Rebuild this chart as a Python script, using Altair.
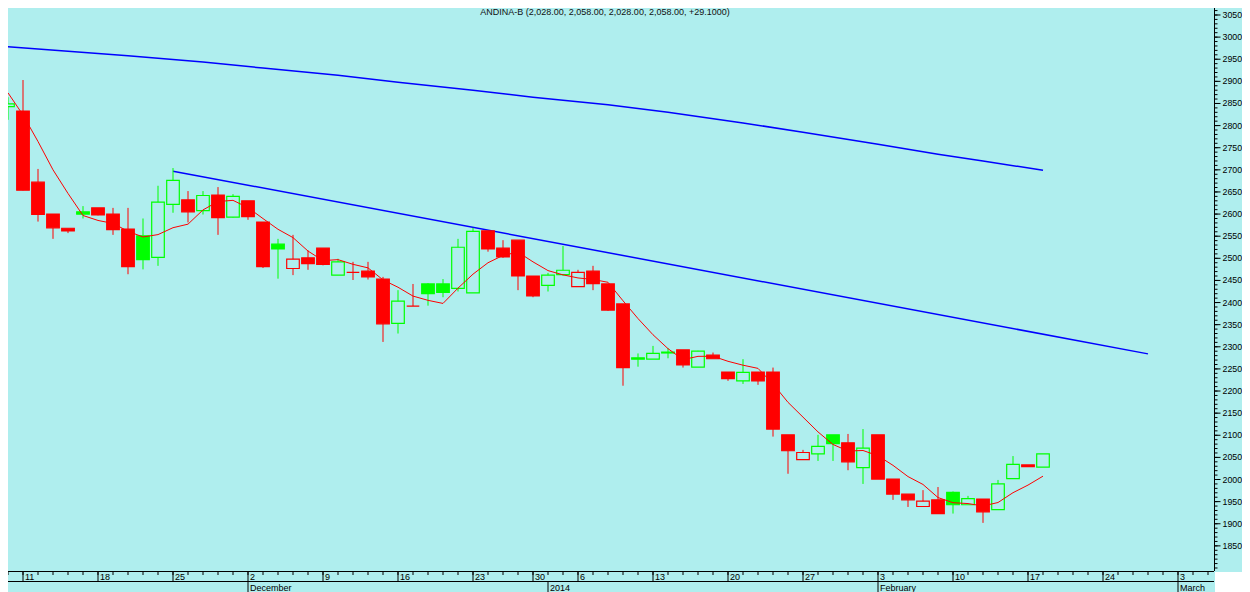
import altair as alt
import pandas as pd
import numpy as np

TITLE = "ANDINA-B (2,028.00, 2,058.00, 2,028.00, 2,058.00, +29.1000)"

# trading calendar (Santiago exchange holidays in range)
cal_start, cal_end = "2013-11-07", "2014-03-06"
holidays = ["2013-12-25", "2013-12-31", "2014-01-01"]

# daily candles, 2013-11-08 .. 2014-02-18
opens = [2843, 2833, 2672, 2600, 2568, 2605, 2614, 2600, 2566, 2551, 2502, 2622, 2632, 2608, 2643,
         2593, 2630, 2582, 2532, 2477, 2501, 2523, 2462, 2468, 2471, 2453, 2353, 2392, 2442, 2442,
         2432, 2422, 2562, 2523, 2541, 2460, 2439, 2463, 2436, 2471, 2442, 2397, 2275, 2272, 2288,
         2293, 2254, 2281, 2243, 2223, 2243, 2243, 2101, 2045, 2058, 2101, 2083, 2027, 2101, 2001,
         1967, 1939, 1954, 1971, 1943, 1956, 1932, 2002, 2033, 2028]
highs = [2864, 2903, 2702, 2600, 2568, 2618, 2614, 2614, 2614, 2590, 2664, 2704, 2652, 2652, 2661,
         2645, 2630, 2582, 2544, 2553, 2518, 2523, 2499, 2492, 2492, 2458, 2428, 2442, 2444, 2453,
         2544, 2569, 2562, 2541, 2541, 2460, 2467, 2528, 2474, 2483, 2442, 2397, 2285, 2302, 2297,
         2293, 2291, 2287, 2243, 2272, 2243, 2253, 2101, 2067, 2101, 2101, 2103, 2114, 2101, 2001,
         1967, 1976, 1983, 1973, 1963, 1956, 1999, 2053, 2033, 2058]
lows = [2813, 2653, 2583, 2544, 2557, 2590, 2597, 2553, 2464, 2475, 2483, 2603, 2581, 2599, 2553,
        2592, 2587, 2478, 2454, 2462, 2474, 2484, 2462, 2451, 2452, 2311, 2330, 2392, 2393, 2412,
        2425, 2422, 2515, 2501, 2428, 2412, 2425, 2461, 2436, 2428, 2381, 2212, 2255, 2272, 2274,
        2253, 2254, 2273, 2223, 2216, 2214, 2097, 2013, 2045, 2042, 2042, 2021, 1990, 2001, 1954,
        1938, 1939, 1923, 1923, 1943, 1902, 1932, 2002, 2029, 2028]
closes = [2849, 2654, 2599, 2569, 2562, 2600, 2598, 2565, 2481, 2497, 2627, 2676, 2605, 2642, 2592,
          2640, 2594, 2481, 2521, 2498, 2488, 2486, 2492, 2468, 2458, 2352, 2403, 2392, 2420, 2423,
          2525, 2561, 2521, 2503, 2460, 2415, 2462, 2473, 2468, 2443, 2383, 2253, 2272, 2285, 2286,
          2259, 2290, 2273, 2228, 2242, 2223, 2114, 2065, 2061, 2075, 2081, 2040, 2071, 2001, 1967,
          1954, 1951, 1923, 1943, 1957, 1927, 1990, 2034, 2029, 2058]

# 5-day average: values before enough closes are visible
ma5_early_days = ["2013-11-07", "2013-11-08", "2013-11-11", "2013-11-12", "2013-11-13"]
ma5_early = [2880, 2874, 2824, 2764, 2700]

# long moving average (blue curve)
long_ma_days = ["2013-11-07", "2013-11-08", "2013-11-14", "2013-11-20", "2013-11-27", "2013-12-03",
                "2013-12-10", "2013-12-16", "2013-12-23", "2013-12-30", "2014-01-08", "2014-01-14",
                "2014-01-21", "2014-01-27", "2014-02-03", "2014-02-07", "2014-02-12", "2014-02-18"]
long_ma_vals = [2980, 2978, 2968, 2958, 2944, 2930, 2914, 2898, 2880, 2864, 2847, 2830,
                2806, 2785, 2758, 2735, 2720, 2699]

# trend line
trend_days = ["2013-11-25", "2014-02-27"]
trend_vals = [2697, 2284]

y_label_values = list(range(1850, 3051, 50))
y_minor_values = list(range(1800, 3061, 10))
month_names = {12: "December", 1: "2014", 2: "February", 3: "March"}

# ---------------------------------------------------------------- build tables
cal = pd.bdate_range(cal_start, cal_end)
cal = cal[~cal.isin(pd.to_datetime(holidays))]
pos = {d.strftime("%Y-%m-%d"): k for k, d in enumerate(cal)}

W, H = 1206, 563
RIGHT = 28
PX_DAY = 15
X0 = 1
X1 = X0 + W / PX_DAY

df = pd.DataFrame({"O": opens, "H": highs, "L": lows, "C": closes})
df["i"] = list(range(1, 1 + len(df)))
prev = df["C"].shift(1).fillna(df["O"])
df["col"] = np.where(df["C"] > prev, "#00FF00", "#FF0000")
df["fo"] = np.where(df["C"] < df["O"], 1.0, 0.0)
df["top"] = df[["O", "C"]].max(axis=1)
df["bot"] = df[["O", "C"]].min(axis=1)

roll = df["C"].rolling(5).mean()
ma_df = pd.concat([
    pd.DataFrame({"i": [pos[d] for d in ma5_early_days], "v": ma5_early}),
    pd.DataFrame({"i": df["i"][roll.notna()], "v": roll[roll.notna()]}),
], ignore_index=True)

long_df = pd.DataFrame({"i": [pos[d] for d in long_ma_days], "v": long_ma_vals})
trend_df = pd.DataFrame({"i": [pos[d] for d in trend_days], "v": trend_vals})

cal_df = pd.DataFrame({"i": list(range(len(cal))), "date": cal})
cal_df = cal_df[(cal_df["i"] >= X0) & (cal_df["i"] <= X1)]
mondays = cal_df[cal_df["date"].dt.weekday == 0].copy()
mondays["lab"] = mondays["date"].dt.day.astype(str)
mstart = cal_df[cal_df["date"].dt.month != cal_df["date"].shift(1).dt.month].copy()
mstart = mstart[mstart["date"].dt.month.isin(month_names.keys()) & (mstart.index > 1)]
mstart["lab"] = mstart["date"].dt.month.map(month_names)

ymin_df = pd.DataFrame({"v": y_minor_values})
ylab_df = pd.DataFrame({"v": y_label_values})
ylab_df["lab"] = ylab_df["v"].astype(str)
one = pd.DataFrame({"t": [TITLE]})

# ---------------------------------------------------------------- chart
FONT = "Liberation Sans"
xs = alt.Scale(domain=[X0, X1], nice=False, zero=False, padding=0)
ys = alt.Scale(domain=[1793.2, 3065.8], nice=False, zero=False, padding=0)


def X(f="i"):
    return alt.X(f"{f}:Q", scale=xs, axis=None)


def Y(f):
    return alt.Y(f"{f}:Q", scale=ys, axis=None)


long_line = alt.Chart(long_df).mark_line(color="#0000FF", strokeWidth=1.5, clip=True).encode(
    x=X(), y=Y("v"))
trend_line = alt.Chart(trend_df).mark_line(color="#0000FF", strokeWidth=1.5, clip=True).encode(
    x=X(), y=Y("v"))

upper = alt.Chart(df).mark_rule(strokeWidth=1, clip=True).encode(
    x=X(), y=Y("H"), y2="top:Q", color=alt.Color("col:N", scale=None))
lower = alt.Chart(df).mark_rule(strokeWidth=1, clip=True).encode(
    x=X(), y=Y("bot"), y2="L:Q", color=alt.Color("col:N", scale=None))

bodies = alt.Chart(df).mark_bar(size=12.6, strokeWidth=1.2, clip=True).encode(
    x=X(),
    y=Y("O"),
    y2="C:Q",
    fill=alt.Fill("col:N", scale=None),
    stroke=alt.Stroke("col:N", scale=None),
    fillOpacity=alt.FillOpacity("fo:Q", scale=None),
)

ma_line = alt.Chart(ma_df).mark_line(color="#FF0000", strokeWidth=1, clip=True).encode(
    x=X(), y=Y("v"))

# blank corner under the price axis
corner = alt.Chart(one).mark_rect(color="white").encode(
    x=alt.value(W + 1), x2=alt.value(W + RIGHT), y=alt.value(H + 1), y2=alt.value(H + 21))

# right price axis
y_domain = alt.Chart(one).mark_rule(color="black", strokeWidth=1).encode(
    x=alt.value(W + 0.5), y=alt.value(0), y2=alt.value(H))
y_minor = alt.Chart(ymin_df).mark_rule(color="black", strokeWidth=1).encode(
    y=Y("v"), x=alt.value(W), x2=alt.value(W + 3.5))
y_major = alt.Chart(ylab_df).mark_rule(color="black", strokeWidth=1).encode(
    y=Y("v"), x=alt.value(W), x2=alt.value(W + 6.5))
y_labels = alt.Chart(ylab_df).mark_text(
    align="left", baseline="middle", font=FONT, fontSize=8.8, color="black").encode(
    y=Y("v"), x=alt.value(W + 8.5), text="lab:N")

# date axis
bottom_line1 = alt.Chart(one).mark_rule(color="black", strokeWidth=1).encode(
    y=alt.value(H + 0.5), x=alt.value(0), x2=alt.value(W))
bottom_line2 = alt.Chart(one).mark_rule(color="black", strokeWidth=1).encode(
    y=alt.value(H + 10.5), x=alt.value(0), x2=alt.value(W))

minor_ticks = alt.Chart(cal_df[["i"]]).mark_rule(color="black", strokeWidth=1).encode(
    x=X(), y=alt.value(H), y2=alt.value(H + 4))
major_ticks = alt.Chart(mondays[["i", "lab"]]).mark_rule(color="black", strokeWidth=1).encode(
    x=X(), y=alt.value(H), y2=alt.value(H + 10))
day_labels = alt.Chart(mondays[["i", "lab"]]).mark_text(
    align="left", baseline="alphabetic", dx=2, font=FONT, fontSize=9, color="black").encode(
    x=X(), y=alt.value(H + 8.5), text="lab:N")
month_ticks = alt.Chart(mstart[["i", "lab"]]).mark_rule(color="black", strokeWidth=1).encode(
    x=X(), y=alt.value(H + 10), y2=alt.value(H + 21))
month_labels = alt.Chart(mstart[["i", "lab"]]).mark_text(
    align="left", baseline="alphabetic", dx=2, font=FONT, fontSize=9, color="black").encode(
    x=X(), y=alt.value(H + 19.5), text="lab:N")

title = alt.Chart(one).mark_text(
    align="center", baseline="top", font=FONT, fontSize=9, color="#111111").encode(
    x=alt.value(597), y=alt.value(0), text="t:N")

chart = alt.layer(
    long_line, trend_line, upper, lower, bodies, ma_line,
    corner, y_domain, y_minor, y_major, y_labels,
    bottom_line1, bottom_line2, minor_ticks, major_ticks, day_labels, month_ticks, month_labels,
    title,
).properties(
    width=W, height=H,
    autosize=alt.AutoSizeParams(type="none"),
    padding={"left": 0, "top": 0, "right": RIGHT, "bottom": 21},
    background="#AFEEEE",
).configure_view(stroke=None)

chart.save("out.html", embed_options={"renderer": "svg", "actions": False})
